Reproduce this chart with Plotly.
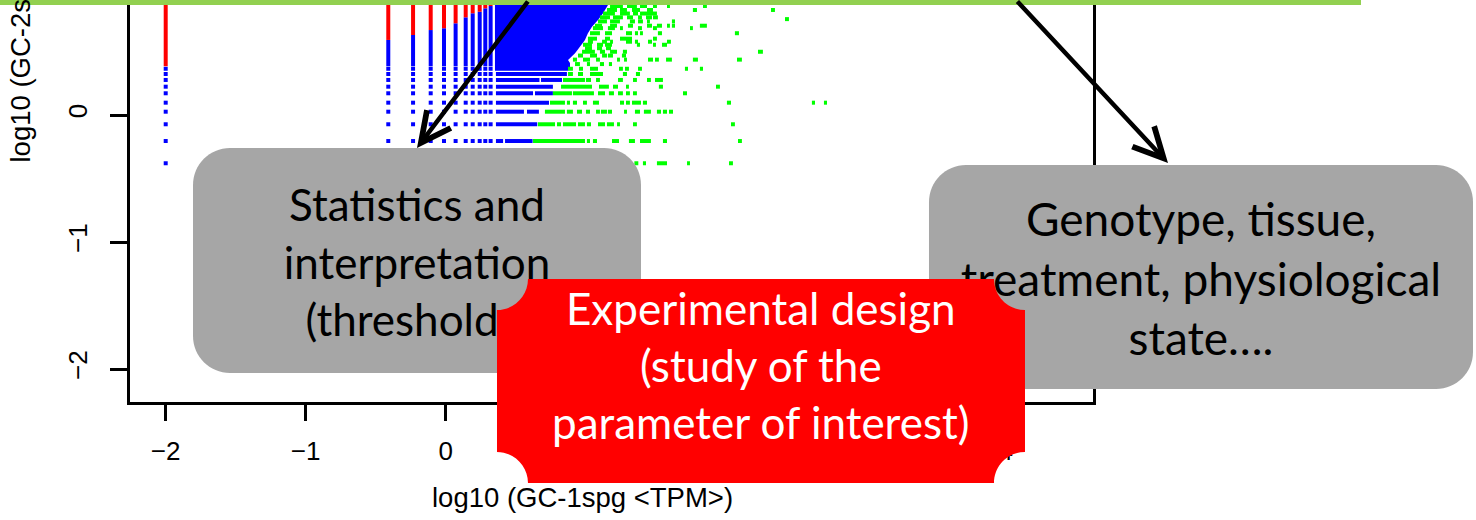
import plotly.graph_objects as go

W, H = 1476, 520

# ---------------- scatter data: log10 TPM, sample 1 (x) vs sample 2 (y) ----------------
# low-count columns that stay separate (x) and low-count rows (y)
X_COLS = [-2.0, -0.41, -0.233, -0.107, -0.012, 0.071, 0.143, 0.193, 0.243, 0.283, 0.321]
Y_ROWS = [-0.380, -0.205, -0.073, 0.026, 0.097, 0.171, 0.223, 0.276, 0.323, 0.364]
# level from which each low-count column is flagged red (sample-2 specific)
RED_FROM = [0.384, 0.591, 0.630, 0.669, 0.683, 0.722, 0.769, 0.801, 0.813, 0.840, 0.858]
DENSE_FROM = 0.384   # rows merge into continuous strips above this level
TOP = 1.0

# blue runs on the low rows, right of the separate columns: (y, x_start, x_end)
BLUE_RUNS = [
    (-0.380, 0.359, 0.620),
    (-0.205, 0.359, 0.410), (-0.205, 0.424, 0.621),
    (-0.073, 0.359, 0.654),
    (0.026, 0.359, 0.559), (0.026, 0.581, 0.666),
    (0.097, 0.359, 0.738),
    (0.171, 0.359, 0.624), (0.171, 0.638, 0.766),
    (0.223, 0.359, 0.766),
    (0.276, 0.359, 0.670), (0.276, 0.681, 0.831),
    (0.323, 0.359, 0.866),
]

# outline of the saturated blue block (x, y)
BLOCK_X = [0.352, 0.874, 0.888, 0.888, 0.874, 0.924, 0.959, 0.995, 1.016, 1.045,
           1.088, 1.124, 1.152, 1.181, 1.220, 0.352]
BLOCK_Y = [0.348, 0.348, 0.380, 0.410, 0.433, 0.486, 0.538, 0.591, 0.643, 0.695,
           0.748, 0.801, 0.853, 0.906, 1.000, 1.000]

# green (expressed in both) runs: (y, x_start, x_end)
GREEN_RUNS = [
    (-0.380, 1.348, 1.376), (-0.380, 1.409, 1.431), (-0.380, 1.509, 1.581),
    (-0.380, 1.724, 1.745), (-0.380, 2.024, 2.052),
    (-0.205, 0.624, 0.995), (-0.205, 1.009, 1.031), (-0.205, 1.052, 1.081),
    (-0.205, 1.188, 1.238), (-0.205, 1.309, 1.352), (-0.205, 1.388, 1.466),
    (-0.205, 1.552, 1.581), (-0.205, 2.088, 2.116),
    (-0.073, 0.659, 0.781), (-0.073, 0.795, 0.824), (-0.073, 0.838, 0.931),
    (-0.073, 0.945, 0.995), (-0.073, 1.009, 1.038), (-0.073, 1.088, 1.138),
    (-0.073, 1.152, 1.202), (-0.073, 1.224, 1.245), (-0.073, 1.338, 1.366),
    (-0.073, 2.038, 2.066),
    (0.026, 0.709, 0.852), (0.026, 0.866, 0.909), (0.026, 0.938, 0.974),
    (0.026, 1.002, 1.031), (0.026, 1.074, 1.102), (0.026, 1.109, 1.152),
    (0.026, 1.159, 1.188), (0.026, 1.274, 1.295), (0.026, 1.352, 1.388),
    (0.026, 1.416, 1.466), (0.026, 1.509, 1.538), (0.026, 1.552, 1.581),
    (0.026, 1.595, 1.624),
    (0.097, 0.745, 0.852), (0.097, 0.866, 0.888), (0.097, 0.909, 0.938),
    (0.097, 0.981, 1.009), (0.097, 1.052, 1.095), (0.097, 1.245, 1.274),
    (0.097, 1.288, 1.316), (0.097, 1.331, 1.395), (0.097, 1.409, 1.438),
    (0.097, 2.009, 2.038), (0.097, 2.616, 2.638), (0.097, 2.702, 2.724),
    (0.171, 0.766, 0.902), (0.171, 0.909, 1.059), (0.171, 1.088, 1.138),
    (0.171, 1.166, 1.202), (0.171, 1.231, 1.266), (0.171, 1.288, 1.316),
    (0.171, 1.338, 1.366), (0.171, 1.695, 1.724),
    (0.223, 0.824, 1.045), (0.223, 1.095, 1.166), (0.223, 1.195, 1.231),
    (0.223, 1.288, 1.309), (0.223, 1.523, 1.552), (0.223, 1.931, 1.959),
    (0.276, 0.838, 0.995), (0.276, 1.002, 1.038), (0.276, 1.074, 1.102),
    (0.276, 1.231, 1.266), (0.276, 1.338, 1.366), (0.276, 1.438, 1.466),
    (0.276, 1.495, 1.552),
    (0.323, 0.874, 0.909), (0.323, 0.945, 0.981), (0.323, 1.031, 1.124),
    (0.323, 1.266, 1.295), (0.323, 1.359, 1.388),
    (0.364, 0.874, 0.909), (0.364, 0.952, 0.981), (0.364, 1.031, 1.088),
    (0.364, 1.238, 1.266), (0.364, 1.281, 1.309), (0.364, 1.374, 1.402),
    (0.364, 1.709, 1.731), (0.364, 1.816, 1.838),
    (0.401, 0.924, 0.959), (0.401, 1.009, 1.031), (0.401, 1.102, 1.131),
    (0.401, 1.166, 1.188),
    (0.436, 0.909, 0.938), (0.436, 0.981, 1.031), (0.436, 1.074, 1.102),
    (0.436, 1.224, 1.245), (0.436, 1.274, 1.295), (0.436, 1.445, 1.481),
    (0.436, 1.495, 1.523), (0.436, 1.574, 1.616), (0.436, 1.766, 1.802),
    (0.436, 2.081, 2.116),
    (0.468, 0.945, 0.981), (0.468, 1.031, 1.081), (0.468, 1.117, 1.152),
    (0.468, 1.159, 1.195), (0.468, 1.259, 1.288),
    (0.498, 0.974, 1.066), (0.498, 1.102, 1.138), (0.498, 1.174, 1.224),
    (0.498, 1.266, 1.295), (0.498, 2.231, 2.266),
    (0.526, 0.995, 1.045), (0.526, 1.081, 1.117), (0.526, 1.145, 1.181),
    (0.553, 0.981, 1.045), (0.553, 1.081, 1.124), (0.553, 1.138, 1.188),
    (0.553, 1.366, 1.388), (0.553, 1.481, 1.502), (0.553, 1.545, 1.581),
    (0.577, 1.016, 1.052), (0.577, 1.117, 1.152), (0.577, 1.174, 1.195),
    (0.577, 1.288, 1.331), (0.577, 1.352, 1.374), (0.577, 1.445, 1.474),
    (0.577, 1.581, 1.609),
    (0.601, 1.016, 1.081), (0.601, 1.138, 1.174), (0.601, 1.245, 1.331),
    (0.601, 1.481, 1.509),
    (0.644, 1.031, 1.102), (0.644, 1.138, 1.188), (0.644, 1.288, 1.331),
    (0.644, 1.352, 1.374), (0.644, 1.388, 1.409), (0.644, 1.516, 1.545),
    (0.644, 2.066, 2.095),
    (0.684, 1.052, 1.124), (0.684, 1.159, 1.209), (0.684, 1.245, 1.266),
    (0.684, 1.374, 1.402), (0.684, 1.481, 1.509), (0.684, 1.745, 1.766),
    (0.703, 1.066, 1.117), (0.703, 1.174, 1.224), (0.703, 1.302, 1.338),
    (0.703, 1.438, 1.474), (0.703, 1.509, 1.545), (0.703, 1.581, 1.602),
    (0.703, 1.616, 1.638), (0.703, 1.816, 1.866),
    (0.737, 1.088, 1.152), (0.737, 1.174, 1.245), (0.737, 1.316, 1.352),
    (0.737, 1.374, 1.409), (0.737, 1.438, 1.459), (0.737, 1.616, 1.638),
    (0.755, 2.424, 2.452),
    (0.769, 1.102, 1.174), (0.769, 1.195, 1.266), (0.769, 1.295, 1.338),
    (0.769, 1.374, 1.402), (0.769, 1.431, 1.474), (0.769, 1.481, 1.516),
    (0.799, 1.124, 1.209), (0.799, 1.245, 1.316), (0.799, 1.338, 1.374),
    (0.799, 1.388, 1.509),
    (0.827, 1.152, 1.224), (0.827, 1.245, 1.295), (0.827, 1.331, 1.388),
    (0.827, 1.438, 1.481), (0.827, 1.766, 1.795), (0.827, 2.324, 2.352),
    (0.858, 1.174, 1.266), (0.858, 1.295, 1.366), (0.858, 1.388, 1.438),
    (0.858, 1.481, 1.509), (0.858, 1.581, 1.602), (0.858, 1.838, 1.866),
]

X_TICKS = [-2, -1, 0, 1, 2, 3, 4]
Y_TICKS = [-2, -1, 0, 1]
X_TITLE = "log10 (GC-1spg &lt;TPM&gt;)"
Y_TITLE = "log10 (GC-2spg &lt;TPM&gt;)"

BOX_LEFT = "Statistics and<br>interpretation<br>(thresholds)"
BOX_RIGHT = "Genotype, tissue,<br>treatment, physiological<br>state…."
BOX_CENTER = "Experimental design<br>(study of the<br>parameter of interest)"

BLUE, RED, GREEN = "#0000FF", "#FF0000", "#00FF00"
GREY, LIME = "#A6A6A6", "#92D050"
MARK = 4  # point size in px


def runs_xy(runs, vertical=False):
    xs, ys = [], []
    for r in runs:
        if vertical:
            x, y0, y1 = r
            xs += [x, x, None]
            ys += [y0, y1, None]
        else:
            y, x0, x1 = r
            xs += [x0, x1, None]
            ys += [y, y, None]
    return xs, ys


fig = go.Figure()

# separate low-count squares
sq_x = [x for x in X_COLS for _ in Y_ROWS]
sq_y = [y for _ in X_COLS for y in Y_ROWS]
fig.add_trace(go.Scatter(x=sq_x, y=sq_y, mode="markers",
                         marker=dict(symbol="square", size=MARK, color=BLUE,
                                     line=dict(width=0)), hoverinfo="skip"))

# merged column strips: blue below the red level, red above
blue_strips = [(x, DENSE_FROM, r) for x, r in zip(X_COLS, RED_FROM) if r > DENSE_FROM]
red_strips = [(x, r, TOP) for x, r in zip(X_COLS, RED_FROM)]
bx, by = runs_xy(blue_strips, vertical=True)
fig.add_trace(go.Scatter(x=bx, y=by, mode="lines", line=dict(color=BLUE, width=MARK),
                         hoverinfo="skip"))
rx, ry = runs_xy(red_strips, vertical=True)
fig.add_trace(go.Scatter(x=rx, y=ry, mode="lines", line=dict(color=RED, width=MARK),
                         hoverinfo="skip"))

# saturated blue block
fig.add_trace(go.Scatter(x=BLOCK_X, y=BLOCK_Y, mode="lines", fill="toself",
                         fillcolor=BLUE, line=dict(width=0), hoverinfo="skip"))

# blue runs on the low rows
hx, hy = runs_xy(BLUE_RUNS)
fig.add_trace(go.Scatter(x=hx, y=hy, mode="lines", line=dict(color=BLUE, width=MARK),
                         hoverinfo="skip"))

# green runs
gx, gy = runs_xy(GREEN_RUNS)
fig.add_trace(go.Scatter(x=gx, y=gy, mode="lines", line=dict(color=GREEN, width=MARK),
                         hoverinfo="skip"))


# ---------------- slide overlay helpers (pixel -> paper) ----------------
def px(x):
    return x / W


def py(y):
    return 1 - y / H


K = 0.5523


def to_path(pts):
    out = []
    for cmd, coords in pts:
        out.append(cmd + " ".join(f"{px(x):.5f},{py(y):.5f}" for x, y in coords))
    return " ".join(out) + " Z"


def rounded_rect(x0, y0, x1, y1, r):
    pts = [
        ("M", [(x0 + r, y0)]),
        ("L", [(x1 - r, y0)]),
        ("C", [(x1 - r + K * r, y0), (x1, y0 + r - K * r), (x1, y0 + r)]),
        ("L", [(x1, y1 - r)]),
        ("C", [(x1, y1 - r + K * r), (x1 - r + K * r, y1), (x1 - r, y1)]),
        ("L", [(x0 + r, y1)]),
        ("C", [(x0 + r - K * r, y1), (x0, y1 - r + K * r), (x0, y1 - r)]),
        ("L", [(x0, y0 + r)]),
        ("C", [(x0, y0 + r - K * r), (x0 + r - K * r, y0), (x0 + r, y0)]),
    ]
    return to_path(pts)


def plaque(x0, y0, x1, y1, r):
    pts = [
        ("M", [(x0, y0 + r)]),
        ("C", [(x0 + K * r, y0 + r), (x0 + r, y0 + K * r), (x0 + r, y0)]),
        ("L", [(x1 - r, y0)]),
        ("C", [(x1 - r, y0 + K * r), (x1 - K * r, y0 + r), (x1, y0 + r)]),
        ("L", [(x1, y1 - r)]),
        ("C", [(x1 - K * r, y1 - r), (x1 - r, y1 - K * r), (x1 - r, y1)]),
        ("L", [(x0 + r, y1)]),
        ("C", [(x0 + r, y1 - K * r), (x0 + K * r, y1 - r), (x0, y1 - r)]),
    ]
    return to_path(pts)


BOX_FONT = "Lato, Carlito, Calibri, sans-serif"

shapes = [
    dict(type="rect", xref="paper", yref="paper", x0=px(0), x1=px(1361),
         y0=py(5), y1=py(0), fillcolor=LIME, line=dict(width=0), layer="above"),
    dict(type="path", xref="paper", yref="paper", path=rounded_rect(193, 148, 641, 373, 37),
         fillcolor=GREY, line=dict(width=0), layer="above",
         label=dict(text=BOX_LEFT, font=dict(family=BOX_FONT, size=44, color="black"),
                    textposition="middle center")),
    dict(type="path", xref="paper", yref="paper", path=rounded_rect(929, 165, 1473, 389, 37),
         fillcolor=GREY, line=dict(width=0), layer="above",
         label=dict(text=BOX_RIGHT, font=dict(family=BOX_FONT, size=46, color="black"),
                    textposition="middle center")),
    dict(type="path", xref="paper", yref="paper", path=plaque(497, 279, 1025, 483, 31),
         fillcolor=RED, line=dict(width=0), layer="above"),
]

TICK_FONT = dict(family="Liberation Sans, Arial, sans-serif", size=26, color="black")
TITLE_FONT = dict(family="Liberation Sans, Arial, sans-serif", size=27.5, color="black")

annotations = [
    dict(text=BOX_CENTER, xref="paper", yref="paper", x=px(761), y=py(365),
         xanchor="center", yanchor="middle", showarrow=False,
         font=dict(family=BOX_FONT, size=44, color="white")),
    dict(text=X_TITLE, xref="paper", yref="paper", x=px(582), y=py(497),
         xanchor="center", yanchor="middle", showarrow=False, font=TITLE_FONT),
    dict(text=Y_TITLE, xref="paper", yref="paper", x=px(20), y=py(165),
         xanchor="center", yanchor="bottom", textangle=-90, showarrow=False, font=TITLE_FONT),
    # arrows pointing at the two grey boxes
    dict(text="", xref="paper", yref="paper", x=px(417), y=py(148),
         ax=112, ay=-158, showarrow=True, arrowhead=5, arrowsize=1.3,
         arrowwidth=4.5, arrowcolor="black"),
    dict(text="", xref="paper", yref="paper", x=px(1168), y=py(163),
         ax=-152, ay=-173, showarrow=True, arrowhead=5, arrowsize=1.3,
         arrowwidth=4.5, arrowcolor="black"),
]

fig.update_layout(
    width=W, height=H,
    margin=dict(l=0, r=0, t=0, b=0),
    paper_bgcolor="white", plot_bgcolor="white",
    showlegend=False,
    shapes=shapes, annotations=annotations,
    xaxis=dict(domain=[px(130), px(1093)], range=[-2.255, 4.624],
               tickvals=X_TICKS, ticks="outside", ticklen=17, tickwidth=2.5,
               tickcolor="black", showline=True, linewidth=2.5, linecolor="black",
               showgrid=False, zeroline=False, tickfont=TICK_FONT,
               ticklabelstandoff=7),
    yaxis=dict(domain=[1 - 401.7 / H, 1], range=[-2.2575, 0.9055],
               tickvals=Y_TICKS, ticks="outside", ticklen=17, tickwidth=2.5,
               tickcolor="black", showline=True, mirror=True, linewidth=2.5,
               linecolor="black", showgrid=False, zeroline=False, tickfont=TICK_FONT,
               tickangle=-90, ticklabelstandoff=13),
)

fig.write_html("out.html")
